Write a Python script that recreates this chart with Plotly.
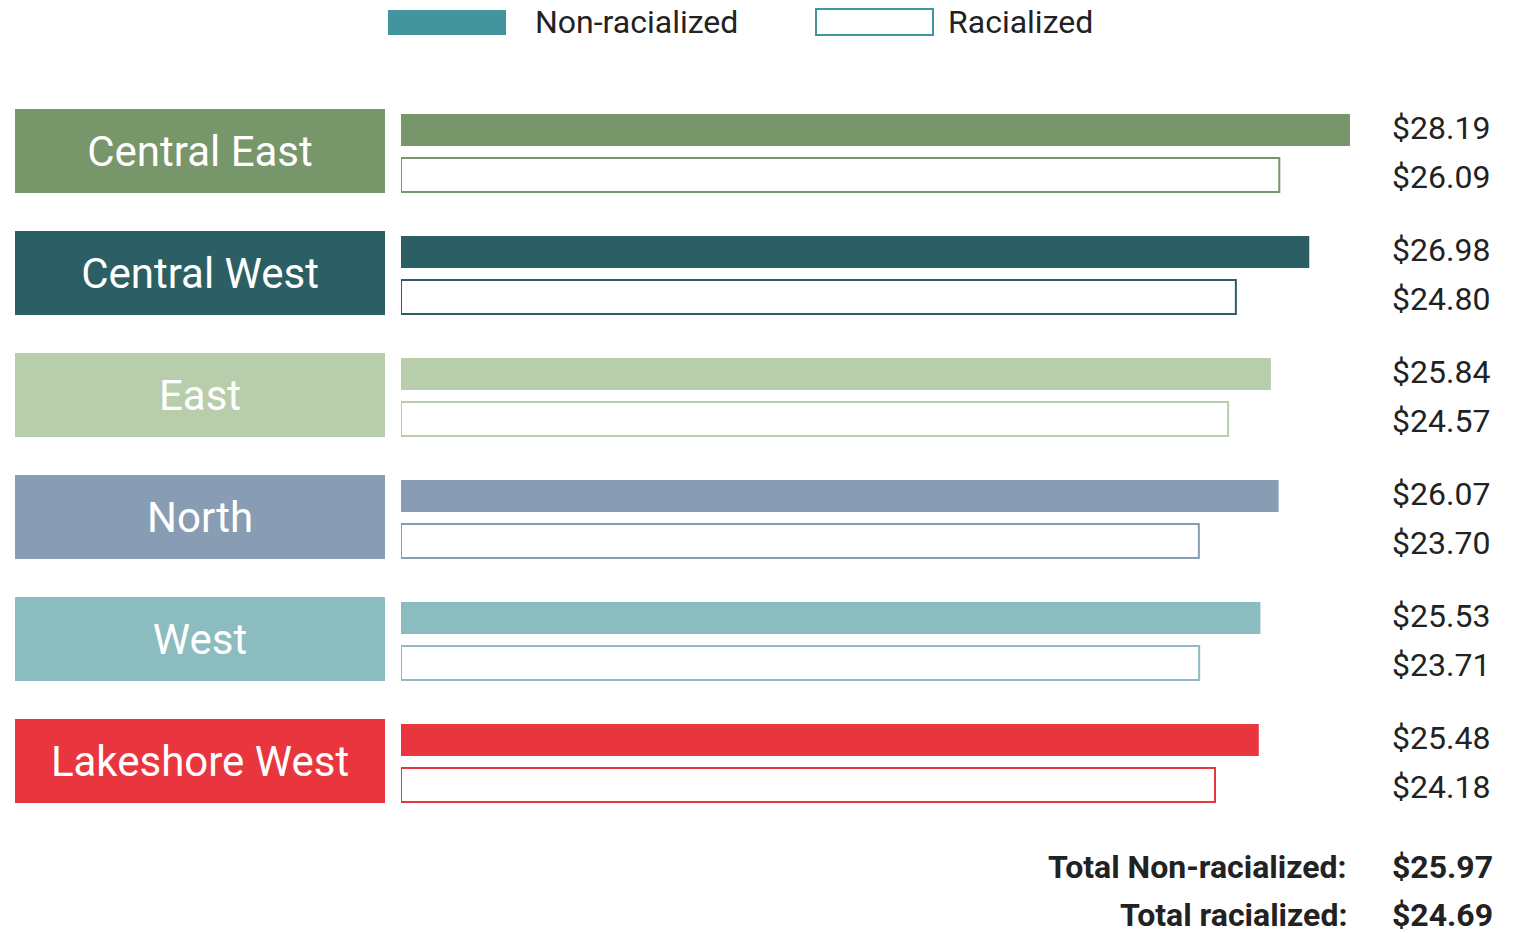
import plotly.graph_objects as go

regions = ["Central East", "Central West", "East", "North", "West", "Lakeshore West"]
non_racialized = [28.19, 26.98, 25.84, 26.07, 25.53, 25.48]
racialized = [26.09, 24.80, 24.57, 23.70, 23.71, 24.18]
colors = ["#77966a", "#2c5f63", "#b7cdab", "#889db4", "#8bbcc0", "#e9363e"]
total_labels = ["Total Non-racialized:", "Total racialized:"]
total_values = [25.97, 24.69]
legend_labels = ["Non-racialized", "Racialized"]
legend_color = "#42959c"

# the page's body margin is removed below, so the figure fills the window
OFF = 0
W, H = 1516, 933
FONT = "Roboto"
TXT = "#222222"


def px(x):
    return (x - OFF) / W


def py(y):
    return 1 - (y - OFF) / H


idx = list(range(len(regions)))
nr_off, r_off = -0.172, 0.197

fig = go.Figure()

# Region label boxes
fig.add_trace(go.Bar(
    x=[1] * len(regions), y=idx, orientation="h", width=0.69,
    marker=dict(color=colors, line=dict(width=0)),
    text=regions, textposition="inside", insidetextanchor="middle",
    textfont=dict(family=FONT, size=42, color="white"),
    xaxis="x2", yaxis="y", hoverinfo="skip", showlegend=False,
))

# Non-racialized bars
fig.add_trace(go.Bar(
    x=non_racialized, y=[i + nr_off for i in idx], orientation="h", width=0.262,
    marker=dict(color=colors, line=dict(width=0)),
    name=legend_labels[0], showlegend=False,
))

# Racialized bars (outlined)
fig.add_trace(go.Bar(
    x=racialized, y=[i + r_off for i in idx], orientation="h", width=0.279,
    marker=dict(color="white", line=dict(color=colors, width=2)),
    name=legend_labels[1], showlegend=False,
))

annotations = []
for i in idx:
    annotations.append(dict(x=px(1390), xref="paper", xanchor="left", y=i + nr_off - 0.015, yref="y",
                            yanchor="middle", text=f"${non_racialized[i]:.2f}", showarrow=False,
                            font=dict(family=FONT, size=32, color=TXT)))
    annotations.append(dict(x=px(1390), xref="paper", xanchor="left", y=i + r_off + 0.015, yref="y",
                            yanchor="middle", text=f"${racialized[i]:.2f}", showarrow=False,
                            font=dict(family=FONT, size=32, color=TXT)))

total_py = [867, 915]
for lab, val, ty in zip(total_labels, total_values, total_py):
    annotations.append(dict(x=px(1349), xref="paper", xanchor="right", y=py(ty), yref="paper",
                            yanchor="middle", text=f"<b>{lab}</b>", showarrow=False,
                            font=dict(family=FONT, size=32, color=TXT)))
    annotations.append(dict(x=px(1390), xref="paper", xanchor="left", y=py(ty), yref="paper",
                            yanchor="middle", text=f"<b>${val:.2f}</b>", showarrow=False,
                            font=dict(family=FONT, size=32, color=TXT)))

# Legend
annotations.append(dict(x=px(533), xref="paper", xanchor="left", y=py(22), yref="paper",
                        yanchor="middle", text=legend_labels[0], showarrow=False,
                        font=dict(family=FONT, size=32, color=TXT)))
annotations.append(dict(x=px(946), xref="paper", xanchor="left", y=py(22), yref="paper",
                        yanchor="middle", text=legend_labels[1], showarrow=False,
                        font=dict(family=FONT, size=32, color=TXT)))
shapes = [
    dict(type="rect", xref="paper", yref="paper", x0=px(388), x1=px(506), y0=py(35), y1=py(10),
         fillcolor=legend_color, line=dict(width=0)),
    dict(type="rect", xref="paper", yref="paper", x0=px(816), x1=px(933), y0=py(35), y1=py(9),
         fillcolor="white", line=dict(color=legend_color, width=2)),
]

# y axis: group i centred at page pixel 151 + 122*i
top_y = (OFF - 151) / 122
bot_y = (OFF + H - 151) / 122

fig.update_layout(
    width=W, height=H,
    margin=dict(l=0, r=0, t=0, b=0),
    paper_bgcolor="white", plot_bgcolor="white",
    barmode="overlay",
    showlegend=False,
    xaxis=dict(domain=[px(401), px(1350)], range=[0, max(non_racialized)], visible=False, fixedrange=True),
    xaxis2=dict(domain=[px(15), px(385)], range=[0, 1], visible=False, anchor="y", fixedrange=True),
    yaxis=dict(domain=[0, 1], range=[bot_y, top_y], visible=False, fixedrange=True),
    annotations=annotations,
    shapes=shapes,
    font=dict(family=FONT),
)

fig.write_html(
    "out.html",
    config={"displayModeBar": False, "staticPlot": True},
    post_script="document.body.style.margin='0px';document.body.style.overflow='hidden';",
)
